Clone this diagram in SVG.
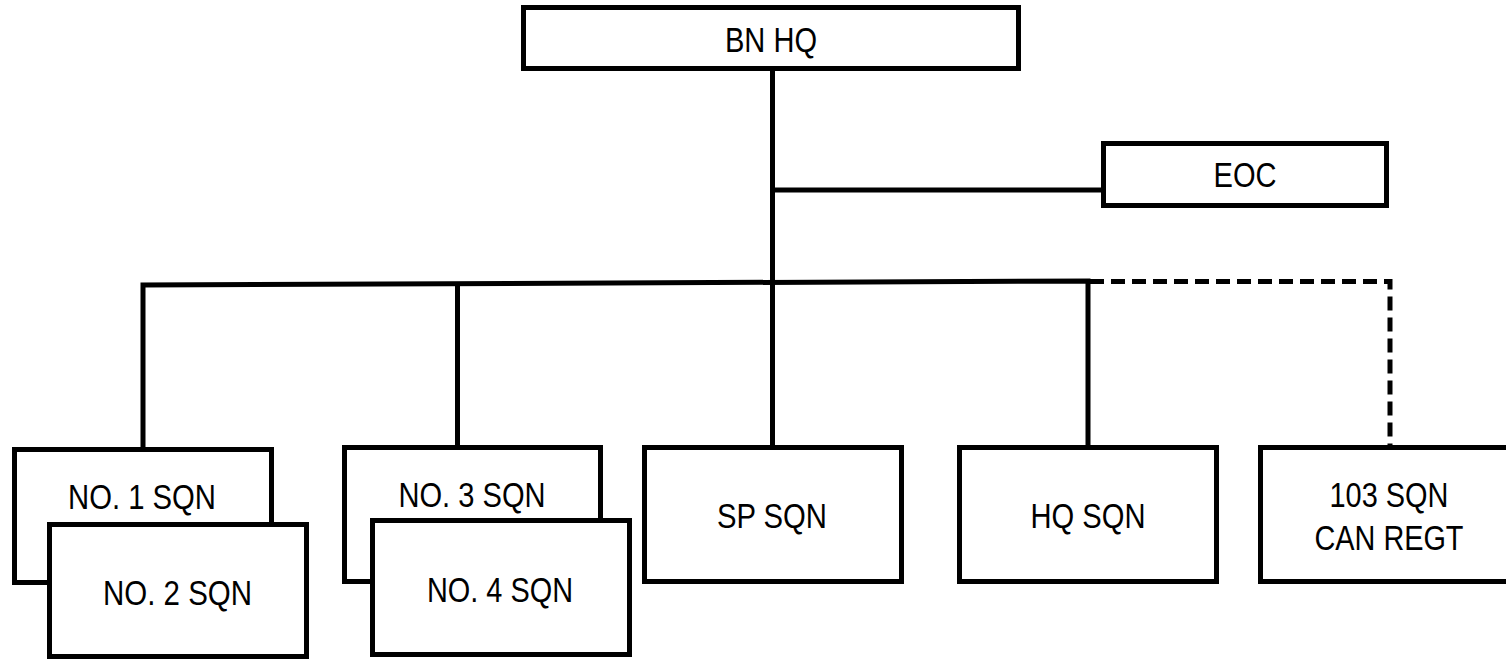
<svg xmlns="http://www.w3.org/2000/svg" width="1506" height="660" viewBox="0 0 1506 660">
<style>
.box{fill:#fff;stroke:#000;stroke-width:5}
.ln{fill:none;stroke:#000;stroke-width:5;stroke-linejoin:miter}
.dash{fill:none;stroke:#000;stroke-width:5;stroke-dasharray:14 7}
text{font-family:"Liberation Sans",Arial,sans-serif;font-size:35px;fill:#000;text-anchor:middle}
</style>
<rect width="1506" height="660" fill="#fff"/>
<g id="connectors">
<path class="ln" d="M772.5 71 V447"/>
<path class="ln" d="M772.5 190 H1103"/>
<path class="ln" d="M143 447 V285 L1088 281 V447"/>
<path class="ln" d="M457.5 284 V447"/>
<path class="dash" d="M1090 281.5 H1390 V447"/>
</g>
<g id="bnhq"><rect class="box" x="523.5" y="7.5" width="495" height="61"/><text x="771" y="52" textLength="92" lengthAdjust="spacingAndGlyphs">BN HQ</text></g>
<g id="eoc"><rect class="box" x="1103.5" y="143.5" width="283" height="62"/><text x="1245" y="187" textLength="63" lengthAdjust="spacingAndGlyphs">EOC</text></g>
<g id="sqn1"><rect class="box" x="14.5" y="449.5" width="257" height="133"/><text x="142" y="509" textLength="148" lengthAdjust="spacingAndGlyphs">NO. 1 SQN</text></g>
<g id="sqn2"><rect class="box" x="49.5" y="524.5" width="257" height="132"/><text x="177.5" y="605" textLength="149" lengthAdjust="spacingAndGlyphs">NO. 2 SQN</text></g>
<g id="sqn3"><rect class="box" x="344.5" y="447.5" width="256" height="134"/><text x="472" y="507" textLength="147" lengthAdjust="spacingAndGlyphs">NO. 3 SQN</text></g>
<g id="sqn4"><rect class="box" x="372.5" y="520.5" width="257" height="134"/><text x="500" y="602" textLength="146" lengthAdjust="spacingAndGlyphs">NO. 4 SQN</text></g>
<g id="spsqn"><rect class="box" x="644.5" y="447.5" width="257" height="134"/><text x="772" y="528" textLength="110" lengthAdjust="spacingAndGlyphs">SP SQN</text></g>
<g id="hqsqn"><rect class="box" x="959.5" y="447.5" width="257" height="134"/><text x="1088" y="528" textLength="115" lengthAdjust="spacingAndGlyphs">HQ SQN</text></g>
<g id="sqn103"><rect class="box" x="1260.5" y="447.5" width="257" height="134"/><text x="1389" y="507" textLength="119" lengthAdjust="spacingAndGlyphs">103 SQN</text><text x="1389" y="550" textLength="149" lengthAdjust="spacingAndGlyphs">CAN REGT</text></g>
</svg>
